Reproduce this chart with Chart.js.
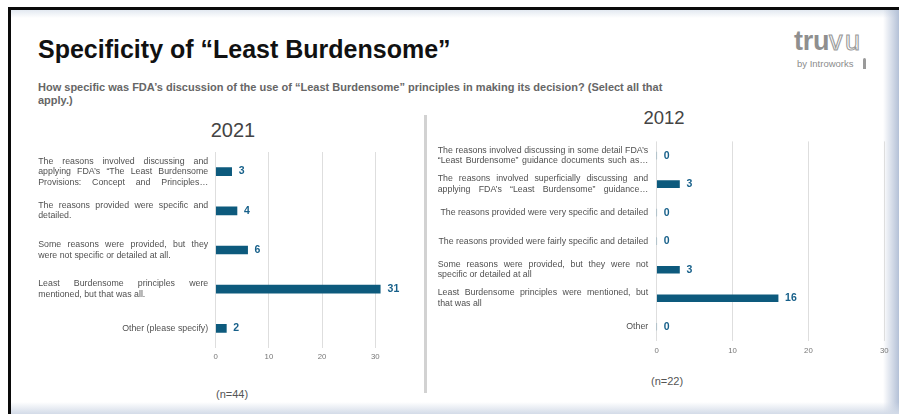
<!DOCTYPE html>
<html>
<head>
<meta charset="utf-8">
<script src="https://cdn.jsdelivr.net/npm/chart.js@4.4.1/dist/chart.umd.min.js"></script>
<style>
  html, body { margin: 0; padding: 0; }
  body { width: 899px; height: 414px; overflow: hidden; background: #fff; position: relative;
         font-family: "Liberation Sans", Arial, Helvetica, sans-serif; }
  .abs { position: absolute; }
  #frame { left: 8px; top: 7px; right: 0; bottom: 0; border-top: 3px solid #0a0a0a; border-left: 3px solid #0a0a0a;
           background: #fff; }
  #shadeTop { left: 11px; top: 10px; right: 0; height: 8px; background: linear-gradient(#e3e9f1, #ffffff); }
  #shadeRight { top: 10px; right: 0; width: 16px; bottom: 0; background: linear-gradient(90deg, rgba(255,255,255,0), #b4c1d7); }
  #shadeBottom { left: 11px; right: 0; bottom: 0; height: 12px; background: linear-gradient(rgba(255,255,255,0), #d3dbe8); }
  #title { left: 38px; top: 37px; font-size: 25px; font-weight: bold; color: #111; line-height: 25px; white-space: nowrap; }
  #subtitle { left: 38px; top: 81px; font-size: 11px; font-weight: bold; color: #666; line-height: 13px; white-space: nowrap; }
  .year { color: #444; transform: translateX(-50%); }
  .count { font-size: 11px; color: #555; line-height: 12px; }
  #divider { left: 424px; top: 115px; width: 3px; height: 278px; background: #d2d2d2; }
  #logo { left: 794px; top: 28px; font-size: 27px; line-height: 27px; font-weight: bold; color: #8f8f8f; letter-spacing: -0.3px; white-space: nowrap; }
  #logo .vu { color: #fff; -webkit-text-stroke: 1.1px #9a9a9a; font-weight: normal; letter-spacing: 2.5px; }
  #byline { left: 797px; top: 58px; font-size: 9.5px; color: #8c8c8c; line-height: 11px; }
  #pen { left: 863px; top: 58px; width: 3px; height: 11px; background: #9a9a9a; border-radius: 2px 2px 0 0; }
  canvas { position: absolute; }
</style>
</head>
<body>
<div id="frame" class="abs"></div>
<div id="shadeTop" class="abs"></div>
<div id="shadeRight" class="abs"></div>
<div id="shadeBottom" class="abs"></div>

<div id="title" class="abs">Specificity of “Least Burdensome”</div>
<div id="subtitle" class="abs">How specific was FDA’s discussion of the use of “Least Burdensome” principles in making its decision? (Select all that<br>apply.)</div>
<div id="logo" class="abs">tru<span class="vu">vu</span></div>
<div id="byline" class="abs">by Introworks</div>
<div id="pen" class="abs"></div>

<div class="abs year" style="left:233px; top:120px; font-size:20px; line-height:20px;">2021</div>
<div class="abs year" style="left:664px; top:109px; font-size:18.5px; line-height:18.5px;">2012</div>
<div id="divider" class="abs"></div>
<div class="abs count" style="left:216px; top:388px;">(n=44)</div>
<div class="abs count" style="left:651px; top:375px;">(n=22)</div>

<canvas id="chart2021" width="400" height="230" style="left:20px; top:140px;"></canvas>
<canvas id="chart2012" width="465" height="231" style="left:430px; top:130px;"></canvas>

<script>
// Survey answers, 2021 (n=44)
const categories2021 = [
  ["The reasons involved discussing and", "applying FDA’s “The Least Burdensome", "Provisions: Concept and Principles…"],
  ["The reasons provided were specific and", "detailed."],
  ["Some reasons were provided, but they", "were not specific or detailed at all."],
  ["Least Burdensome principles were", "mentioned, but that was all."],
  ["Other (please specify)"]
];
const values2021 = [3, 4, 6, 31, 2];

// Survey answers, 2012 (n=22)
const categories2012 = [
  ["The reasons involved discussing in some detail FDA’s", "“Least Burdensome” guidance documents such as…"],
  ["The reasons involved superficially discussing and", "applying FDA’s “Least Burdensome” guidance…"],
  ["The reasons provided were very specific and detailed"],
  ["The reasons provided were fairly specific and detailed"],
  ["Some reasons were provided, but they were not", "specific or detailed at all"],
  ["Least Burdensome principles were mentioned, but", "that was all"],
  ["Other"]
];
const values2012 = [0, 3, 0, 0, 3, 16, 0];

const axisTicks = [0, 10, 20, 30];

const FONT = '"Liberation Sans", Arial, Helvetica, sans-serif';
const BAR = '#0d5a7d';
const VALUE = '#17608a';

// Category labels drawn as justified paragraphs to the left of the plot
const justifiedLabels = {
  id: 'justifiedLabels',
  afterDraw(chart, args, o) {
    const { ctx, chartArea } = chart;
    const y = chart.scales.y;
    const right = chartArea.left - o.gap;
    const left = right - o.width;
    ctx.save();
    ctx.font = o.font;
    ctx.fillStyle = o.color;
    ctx.textBaseline = 'middle';
    chart.data.labels.forEach((lines, i) => {
      const cy = y.getPixelForValue(i);
      const y0 = cy - (lines.length - 1) * o.lineHeight / 2;
      lines.forEach((line, j) => {
        const ly = y0 + j * o.lineHeight;
        if (lines.length === 1) {
          ctx.textAlign = 'right';
          ctx.fillText(line, right, ly);
          return;
        }
        ctx.textAlign = 'left';
        const isLast = j === lines.length - 1;
        if (isLast && !line.endsWith('…')) {
          ctx.fillText(line, left, ly);
          return;
        }
        const words = line.split(' ');
        const total = words.reduce((s, w) => s + ctx.measureText(w).width, 0);
        const gap = (o.width - total) / Math.max(1, words.length - 1);
        if (gap < 1.5) {
          ctx.fillText(line, left, ly, o.width);
          return;
        }
        let x = left;
        words.forEach(w => {
          ctx.fillText(w, x, ly);
          x += ctx.measureText(w).width + gap;
        });
      });
    });
    ctx.restore();
  }
};

// Value printed just past the end of each bar
const barValues = {
  id: 'barValues',
  afterDatasetsDraw(chart, args, o) {
    const { ctx } = chart;
    const xs = chart.scales.x;
    const meta = chart.getDatasetMeta(0);
    const data = chart.data.datasets[0].data;
    ctx.save();
    ctx.font = o.font;
    ctx.fillStyle = o.color;
    ctx.textAlign = 'left';
    ctx.textBaseline = 'middle';
    meta.data.forEach((bar, i) => {
      ctx.fillText(String(data[i]), xs.getPixelForValue(data[i]) + o.offset, bar.y);
    });
    ctx.restore();
  }
};

function makeChart(id, labels, values, cfg) {
  return new Chart(document.getElementById(id), {
    type: 'bar',
    data: {
      labels: labels,
      datasets: [{ data: values, backgroundColor: BAR, barThickness: cfg.barThickness, borderWidth: 0 }]
    },
    options: {
      indexAxis: 'y',
      responsive: false,
      animation: false,
      layout: { padding: cfg.padding },
      scales: {
        x: {
          min: 0,
          max: cfg.max,
          afterBuildTicks: s => { s.ticks = axisTicks.map(v => ({ value: v })); },
          afterFit: s => { s.height = 20; },
          ticks: { padding: cfg.tickPad, color: '#777', font: { size: 7.8, family: FONT } },
          grid: { color: '#dedede', lineWidth: 1, drawTicks: false },
          border: { display: false }
        },
        y: { display: false }
      },
      plugins: {
        legend: { display: false },
        tooltip: { enabled: false },
        justifiedLabels: { font: '8.8px ' + FONT, color: '#505050', lineHeight: 10.5, gap: cfg.labelGap, width: cfg.labelWidth },
        barValues: { font: 'bold 10.5px ' + FONT, color: VALUE, offset: 7 }
      }
    },
    plugins: [justifiedLabels, barValues]
  });
}

makeChart('chart2021', categories2021, values2021, {
  max: 31, barThickness: 8, tickPad: 4.5,
  padding: { left: 195.7, right: 39.4, top: 12, bottom: 2 },
  labelGap: 7.5, labelWidth: 170
});

makeChart('chart2012', categories2012, values2012, {
  max: 30, barThickness: 7, tickPad: 5,
  padding: { left: 226.7, right: 10.7, top: 11.4, bottom: 0 },
  labelGap: 8.5, labelWidth: 210.5
});
</script>
</body>
</html>
